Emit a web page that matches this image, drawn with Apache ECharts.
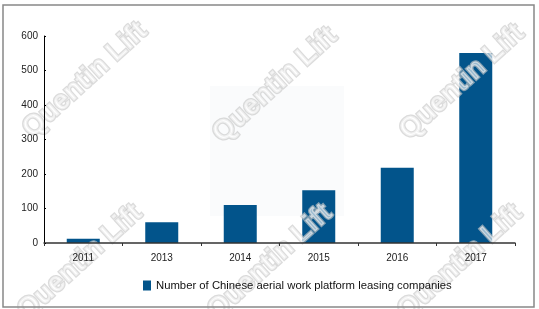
<!DOCTYPE html>
<html>
<head>
<meta charset="utf-8">
<script src="https://cdn.jsdelivr.net/npm/echarts@6/dist/echarts.min.js"></script>
<style>
html,body{margin:0;padding:0;background:#fff;}
#chart{width:539px;height:309px;}
</style>
</head>
<body>
<div id="chart"></div>
<script>
const categories = ['2011', '2013', '2014', '2015', '2016', '2017'];
const companies = [12, 60, 110, 153, 218, 551];
const yTicks = [0, 100, 200, 300, 400, 500, 600];
const seriesName = 'Number of Chinese aerial work platform leasing companies';
const watermarkText = 'Quentin Lift';

const chart = echarts.init(document.getElementById('chart'));

function wm(x, y) {
  return {
    type: 'text', x: x, y: y, rotation: Math.PI * 0.235, z: 3,
    style: {
      text: watermarkText, font: 'bold 28px "Liberation Sans", Arial',
      fill: 'rgba(255,255,255,0.6)', stroke: 'rgba(200,200,200,0.65)', lineWidth: 2.5,
      align: 'center', verticalAlign: 'middle'
    },
    silent: true
  };
}

chart.setOption({
  animation: false,
  backgroundColor: '#fff',
  textStyle: { fontFamily: '"Liberation Sans", Arial, sans-serif' },
  grid: { left: 44, right: 24, top: 36, bottom: 66 },
  legend: {
    data: [seriesName], bottom: 13, left: 138, z: 6,
    icon: 'rect', itemWidth: 8, itemHeight: 10, itemGap: 6,
    textStyle: { fontSize: 11.3, color: '#111' }
  },
  xAxis: {
    type: 'category', data: categories, z: 5,
    axisLine: { lineStyle: { color: '#333', width: 1.5 } },
    axisTick: { show: true, length: 3, lineStyle: { color: '#333' } },
    axisLabel: { color: '#222', fontSize: 10, margin: 10 }
  },
  yAxis: {
    type: 'value', min: 0, max: 600, interval: 100, z: 5,
    axisLine: { show: true, lineStyle: { color: '#000', width: 1 } },
    axisTick: { show: true, inside: true, length: 2, lineStyle: { color: '#000' } },
    splitLine: { show: false },
    axisLabel: { color: '#222', fontSize: 10, margin: 6,
      formatter: v => yTicks.includes(v) ? String(v) : '' }
  },
  series: [{
    name: seriesName, type: 'bar', data: companies, z: 2,
    barWidth: 33, itemStyle: { color: '#02548b' }
  }],
  graphic: [
    { type: 'rect', shape: { x: 210, y: 86, width: 134, height: 130 }, style: { fill: '#fafbfc' }, z: -10, silent: true },
    { type: 'rect', shape: { x: 3, y: 5, width: 531, height: 302 }, style: { fill: 'none', stroke: '#888', lineWidth: 1.5 }, z: 50, silent: true },
    wm(85, 80), wm(275, 85), wm(462, 82),
    wm(80, 262), wm(270, 262), wm(460, 262)
  ]
});
</script>
</body>
</html>
